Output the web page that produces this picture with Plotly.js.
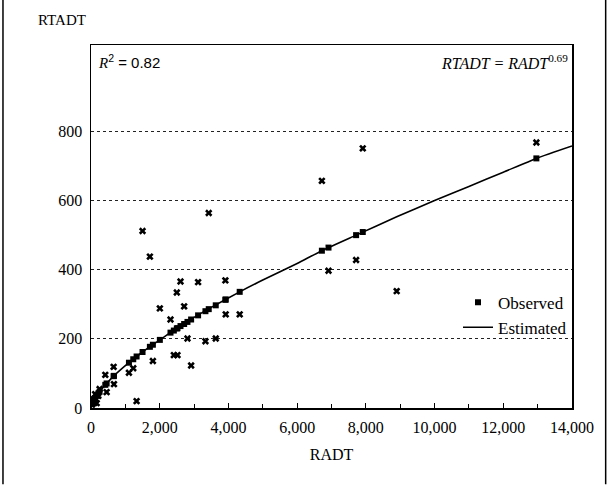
<!DOCTYPE html>
<html>
<head>
<meta charset="utf-8">
<script src="https://cdn.plot.ly/plotly-3.0.1.min.js"></script>
<style>html,body{margin:0;padding:0;background:#fff;}#chart{width:611px;height:485px;}</style>
</head>
<body>
<div id="chart"></div>
<script>
// Observed RADT / RTADT pairs (x marks)
var obsRADT  = [30, 60, 100, 120, 165, 213, 250, 416, 455, 658, 668, 1104, 1230, 1327, 1500, 1714, 1801, 2004, 2314, 2411, 2498, 2517, 2605, 2711, 2808, 2914, 3117, 3331, 3427, 3631, 3911, 3921, 4328, 6720, 6913, 7716, 7910, 8897, 12963];
var obsRTADT = [10, 25, 15, 40, 14, 35, 55, 96, 46, 119, 69, 102, 115, 20, 512, 438, 136, 288, 256, 153, 334, 153, 366, 294, 201, 123, 364, 193, 564, 201, 369, 271, 271, 657, 397, 428, 751, 338, 768];
// Estimated values (squares on the fitted curve)
var estRADT  = [30, 60, 100, 120, 165, 213, 250, 416, 455, 658, 668, 1104, 1230, 1327, 1500, 1714, 1801, 2004, 2314, 2411, 2498, 2517, 2605, 2711, 2808, 2914, 3117, 3331, 3427, 3631, 3911, 3921, 4328, 6720, 6913, 7716, 7910, 12963];
var estRTADT = [11, 17, 25, 28, 35, 42, 47, 67, 71, 92, 93, 131, 141, 149, 162, 177, 183, 197, 218, 224, 230, 231, 237, 243, 249, 256, 268, 280, 286, 297, 313, 314, 336, 455, 464, 500, 509, 722];
// Fitted curve
var curveRADT  = [0, 30, 100, 250, 455, 668, 1104, 1500, 2004, 2500, 3000, 3500, 4328, 5000, 6000, 6720, 7716, 8897, 10000, 11000, 12000, 12963, 14000];
var curveRTADT = [0, 11, 25, 47, 71, 93, 131, 162, 197, 231, 262, 291, 336, 370, 418, 455, 500, 553, 600, 641, 682, 722, 758];

var xTicks = [0, 2000, 4000, 6000, 8000, 10000, 12000, 14000];
var xTickText = ['0', '2,000', '4,000', '6,000', '8,000', '10,000', '12,000', '14,000'];
var yTicks = [0, 200, 400, 600, 800];
var yTickText = ['0', '200', '400', '600', '800'];

var serif = 'Liberation Serif, Times New Roman, serif';

var traces = [
  {x: curveRADT, y: curveRTADT, mode: 'lines', name: 'Estimated',
   line: {color: '#000', width: 1.6, shape: 'spline', smoothing: 0.6}, showlegend: false, hoverinfo: 'skip'},
  {x: obsRADT, y: obsRTADT, mode: 'markers', name: 'obs', showlegend: false,
   marker: {symbol: 'x', size: 6.5, color: '#000'}},
  {x: estRADT, y: estRTADT, mode: 'markers', name: 'Observed',
   marker: {symbol: 'square', size: 6, color: '#000'}},
  {x: [null], y: [null], mode: 'lines', name: 'Estimated',
   line: {color: '#000', width: 1.6}}
];

var layout = {
  width: 611, height: 485,
  margin: {l: 91, r: 39, t: 45, b: 77},
  paper_bgcolor: '#fff', plot_bgcolor: '#fff',
  font: {family: serif, color: '#000', size: 16},
  showlegend: true,
  legend: {x: 1, xanchor: 'right', y: 0.34, yanchor: 'top', bgcolor: 'rgba(255,255,255,0)',
           font: {family: serif, size: 17, color: '#000'}, tracegroupgap: 0, itemwidth: 30},
  xaxis: {range: [0, 14000], tickvals: xTicks, ticktext: xTickText, showgrid: false, zeroline: false,
          showline: true, linecolor: '#000', linewidth: 1.5, mirror: true,
          ticks: 'inside', ticklen: 5, tickcolor: '#000', ticklabelstandoff: 4,
          minor: {dtick: 1000, tick0: 0, ticks: 'inside', ticklen: 4, tickcolor: '#000'},
          tickfont: {family: serif, size: 16},
          title: {text: 'RADT', font: {family: serif, size: 16}, standoff: 14}},
  yaxis: {range: [0, 1050], tickvals: yTicks, ticktext: yTickText, showgrid: true,
          gridcolor: '#222', griddash: 'dot', gridwidth: 1, zeroline: false,
          showline: true, linecolor: '#000', linewidth: 1.5, mirror: true,
          ticks: '', tickfont: {family: serif, size: 16}, ticklabelstandoff: 4},
  annotations: [
    {xref: 'paper', yref: 'paper', x: -0.114, y: 1.069, xanchor: 'left', yanchor: 'middle', showarrow: false,
     text: 'RTADT', font: {family: serif, size: 15}},
    {xref: 'paper', yref: 'paper', x: 0.01, y: 0.985, xanchor: 'left', yanchor: 'top', showarrow: false,
     text: '<i><span style="font-family:Liberation Serif">R</span></i><sup>2</sup> = 0.82',
     font: {family: 'Liberation Sans, Arial, sans-serif', size: 15}},
    {xref: 'paper', yref: 'paper', x: 0.995, y: 0.985, xanchor: 'right', yanchor: 'top', showarrow: false,
     text: '<i>RTADT = RADT</i><sup>0.69</sup>', font: {family: serif, size: 16}}
  ],
  shapes: [
    {type: 'line', xref: 'paper', yref: 'paper', x0: -0.183, x1: -0.183, y0: -0.21, y1: 1.125,
     line: {color: '#000', width: 1.5}},
    {type: 'line', xref: 'paper', yref: 'paper', x0: 1.07, x1: 1.07, y0: -0.21, y1: 1.125,
     line: {color: '#000', width: 1.5}}
  ]
};

Plotly.newPlot('chart', traces, layout, {displayModeBar: false, staticPlot: true});
</script>
</body>
</html>
